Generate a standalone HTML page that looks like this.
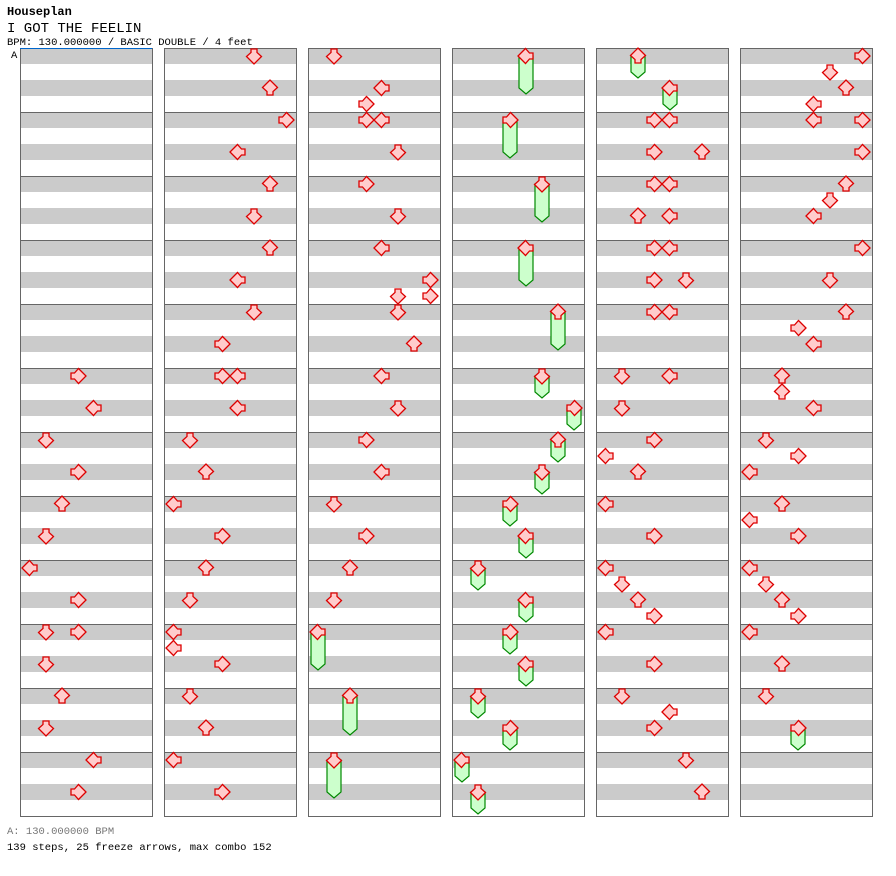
<!DOCTYPE html>
<html><head><meta charset="utf-8"><style>
body{margin:0;background:#fff;width:896px;height:876px;overflow:hidden;font-family:"Liberation Mono","DejaVu Sans Mono",monospace}
</style></head><body>
<svg id="s" width="896" height="876" xmlns="http://www.w3.org/2000/svg" style="position:absolute;left:0;top:0">
<text x="7" y="15" font-family="Liberation Mono,monospace" font-size="12" font-weight="bold">Houseplan</text>
<text x="7" y="32" font-family="Liberation Mono,monospace" font-size="14">I GOT THE FEELIN</text>
<text x="7" y="45" font-family="Liberation Mono,monospace" font-size="10.5">BPM: 130.000000 / BASIC DOUBLE / 4 feet</text>
<text x="11" y="58" font-family="Liberation Mono,monospace" font-size="10.5">A</text>
<text x="7" y="834" font-family="Liberation Mono,monospace" font-size="10.5" fill="#777">A: 130.000000 BPM</text>
<text x="7" y="850" font-family="Liberation Mono,monospace" font-size="10.5">139 steps, 25 freeze arrows, max combo 152</text>
<g id="g"></g>
</svg>
<script>
var g=document.getElementById('g'),h='';
var cols=[20,164,308,452,596,740];
cols.forEach(function(c){
 for(var m=0;m<12;m++){var y=48+m*64;
  h+='<rect x="'+c+'" y="'+y+'" width="132" height="16" fill="#cbcbcb"/><rect x="'+c+'" y="'+(y+32)+'" width="132" height="16" fill="#cbcbcb"/>';
  h+='<line x1="'+c+'" y1="'+(y+0.5)+'" x2="'+(c+132)+'" y2="'+(y+0.5)+'" stroke="#666"/>';}
 h+='<rect x="'+(c+0.5)+'" y="48.5" width="132" height="768" fill="none" stroke="#666"/>';
});
h+='<line x1="20" y1="48.5" x2="152" y2="48.5" stroke="#0066cc"/>';
var A=[[78,376],[94,408],[46,440],[78,472],[62,504],[46,536],[30,568],[78,600],[46,632],[78,632],[46,664],[62,696],[46,728],[94,760],[78,792],
[254,56],[270,88],[286,120],[238,152],[270,184],[254,216],[270,248],[238,280],[254,312],[222,344],[222,376],[238,376],[238,408],[190,440],[206,472],[174,504],[222,536],[206,568],[190,600],[174,632],[174,648],[222,664],[190,696],[206,728],[174,760],[222,792],
[334,56],[382,88],[366,104],[366,120],[382,120],[398,152],[366,184],[398,216],[382,248],[430,280],[398,296],[430,296],[398,312],[414,344],[382,376],[398,408],[366,440],[382,472],[334,504],[366,536],[350,568],[334,600],[318,632,670],[350,696,735],[334,760,798],
[526,56,94],[510,120,158],[542,184,222],[526,248,286],[558,312,350],[542,376,398],[574,408,430],[558,440,462],[542,472,494],[510,504,526],[526,536,558],[478,568,590],[526,600,622],[510,632,654],[526,664,686],[478,696,718],[510,728,750],[462,760,782],[478,792,814],
[638,56,78],[670,88,110],[654,120],[670,120],[654,152],[702,152],[654,184],[670,184],[638,216],[670,216],[654,248],[670,248],[654,280],[686,280],[654,312],[670,312],[622,376],[670,376],[622,408],[654,440],[606,456],[638,472],[606,504],[654,536],[606,568],[622,584],[638,600],[654,616],[606,632],[654,664],[622,696],[670,712],[654,728],[686,760],[702,792],
[862,56],[830,72],[846,88],[814,104],[814,120],[862,120],[862,152],[846,184],[830,200],[814,216],[862,248],[830,280],[846,312],[798,328],[814,344],[782,376],[782,392],[814,408],[766,440],[798,456],[750,472],[782,504],[750,520],[798,536],[750,568],[766,584],[782,600],[798,616],[750,632],[782,664],[766,696],[798,728,750]];
var rot=[90,0,180,-90];
var P='M-3,-7 L3,-7 L3,-3.5 L7.5,0.5 L0,8 L-7.5,0.5 L-3,-3.5 Z';
A.forEach(function(a){
 var x=a[0],y=a[1];var c=0;cols.forEach(function(v){if(x>v)c=v;});
 var lane=Math.round((x-c-10)/16);var t=((lane%4)+4)%4;
 if(a[2]){var e=a[2];
  h+='<path d="M'+(x-7)+','+y+' L'+(x+7)+','+y+' L'+(x+7)+','+(e-6)+' L'+x+','+e+' L'+(x-7)+','+(e-6)+' Z" fill="#ccffcc" stroke="#008800" stroke-width="1.2"/>';}
 h+='<path d="'+P+'" transform="translate('+x+','+y+') rotate('+rot[t]+')" fill="#ffcccc" stroke="#dd0000" stroke-width="1.3"/>';
});
g.innerHTML=h;
</script>
</body></html>
